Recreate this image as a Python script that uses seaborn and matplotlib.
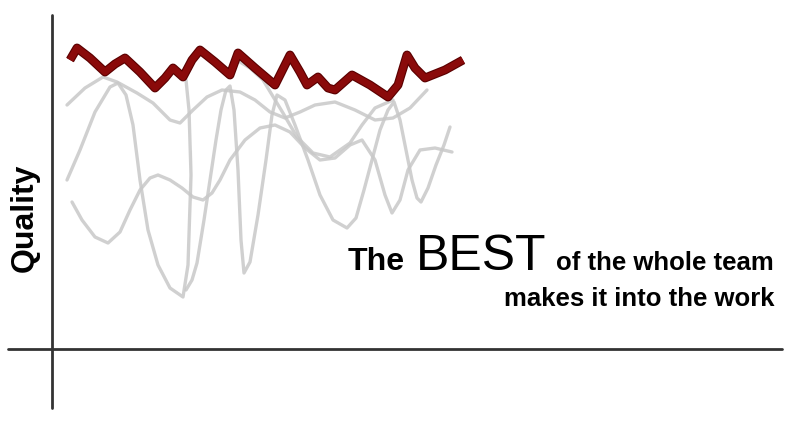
import matplotlib
matplotlib.use("Agg")
import matplotlib.pyplot as plt
import matplotlib.patheffects as pe
import seaborn as sns

# best-of-team line (time vs quality)
best_x = [18, 25, 38, 53, 63, 73, 88, 103, 113, 121, 131, 140, 148, 163, 178, 186, 203,
          223, 238, 248, 255, 266, 276, 283, 300, 318, 336, 346, 355, 363, 373, 393, 411]
best_y = [289, 301, 291, 277, 285, 291, 277, 261, 271, 281, 272, 289, 299, 287, 274, 296, 281,
          264, 294, 277, 264, 272, 261, 259, 274, 264, 252, 264, 294, 281, 271, 279, 289]

# individual team members
m1_x = [15, 33, 51, 65, 85, 101, 118, 128, 141, 155, 170, 188, 203, 218, 233, 248, 263, 283,
        303, 323, 341, 358, 375]
m1_y = [244, 261, 272, 267, 256, 246, 229, 226, 239, 252, 259, 257, 249, 237, 231, 237, 244, 247,
        239, 229, 231, 241, 259]

m2_x = [15, 28, 43, 58, 66, 74, 81, 88, 96, 106, 118, 131, 136, 139, 139, 137, 134]
m2_y = [169, 199, 237, 262, 266, 254, 224, 169, 119, 84, 61, 52, 84, 149, 199, 239, 269]

m3_x = [20, 30, 43, 56, 68, 78, 88, 98, 106, 118, 130, 141, 151, 160, 168, 178, 193, 208, 223,
        238, 253, 268, 283, 298, 310, 323, 333, 340, 348, 356, 368, 383, 400]
m3_y = [147, 129, 112, 106, 117, 139, 159, 171, 174, 169, 161, 152, 149, 156, 169, 189, 209, 221, 224,
        217, 201, 189, 191, 204, 209, 189, 154, 136, 149, 179, 199, 201, 197]

m4_x = [188, 198, 211, 231, 245, 261, 278, 298, 310, 323, 341]
m4_y = [287, 281, 269, 236, 212, 196, 192, 206, 224, 241, 249]

m5_x = [134, 140, 145, 152, 158, 164, 169, 174, 178, 182, 186, 189, 192, 198, 206, 214, 220, 225,
        233, 243, 256, 268, 281, 295, 304, 312, 320, 328, 336, 342, 348, 354, 360, 365, 369, 376,
        384, 392, 398]
m5_y = [59, 69, 86, 129, 169, 209, 239, 259, 263, 239, 179, 109, 76, 87, 134, 189, 234, 254,
        249, 224, 189, 154, 129, 121, 131, 159, 189, 219, 239, 247, 229, 199, 169, 151, 147, 161,
        184, 204, 222]

sns.set_theme(style="white")
plt.rcParams['font.family'] = ['Liberation Sans', 'DejaVu Sans']

fig = plt.figure(figsize=(8, 4.22), dpi=100)
ax = fig.add_axes([0, 0, 1, 1])
ax.set_xlim(-52, 748)
ax.set_ylim(-73, 349)
ax.axis('off')

# gray member lines
for xs, ys in [(m1_x, m1_y), (m2_x, m2_y), (m3_x, m3_y), (m4_x, m4_y), (m5_x, m5_y)]:
    sns.lineplot(x=xs, y=ys, ax=ax, sort=False, color='#c8c8c8', linewidth=2.4,
                 solid_joinstyle='round', solid_capstyle='round', alpha=0.85)

# best line
sns.lineplot(x=best_x, y=best_y, ax=ax, sort=False, color='#8a0a0a', linewidth=4.8,
             solid_joinstyle='round', solid_capstyle='butt',
             path_effects=[pe.Stroke(linewidth=6.4, foreground='#5a0000', joinstyle='round'),
                           pe.Normal()])

# axis lines
ax.plot([-44, 730], [0, 0], color='#333333', linewidth=2)
ax.plot([0, 0], [-59, 334], color='#333333', linewidth=2)

ax.text(-27, 131, 'Quality', rotation=90, fontsize=23, fontweight='bold',
        ha='center', va='center', color='black')

ax.text(296, 79, 'The', fontsize=23, fontweight='bold', ha='left', va='baseline', color='black')
ax.text(364, 79, 'BEST', fontsize=36, ha='left', va='baseline', color='black')
ax.text(722, 79, 'of the whole team', fontsize=18.5, fontweight='bold', ha='right',
        va='baseline', color='black')
ax.text(722, 43, 'makes it into the work', fontsize=18.5, fontweight='bold', ha='right',
        va='baseline', color='black')

fig.savefig('out.png', dpi=100)
